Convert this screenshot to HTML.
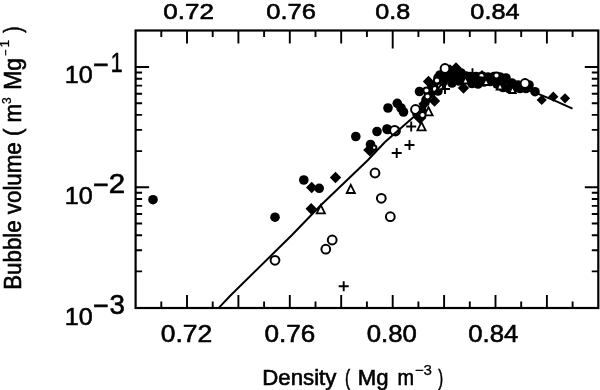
<!DOCTYPE html><html><head><meta charset="utf-8"><title>Bubble volume vs density</title>
<style>html,body{margin:0;padding:0;background:#fff}svg{display:block}text{font-family:"Liberation Sans",Arial,Helvetica,sans-serif;fill:#000;stroke:#000;stroke-width:0.6px}</style></head><body>
<svg width="600" height="390" viewBox="0 0 600 390">
<rect width="600" height="390" fill="#fff"/>
<g stroke="#000" stroke-width="2.2" fill="none" stroke-linecap="butt">
<rect x="135.6" y="30.5" width="462.7" height="277.5"/>
<path stroke-width="1.9" d="M161.3 30.5v6.5M161.3 308.0v-6.5M187.0 30.5v13M187.0 308.0v-13M212.7 30.5v6.5M212.7 308.0v-6.5M238.4 30.5v13M238.4 308.0v-13M264.1 30.5v6.5M264.1 308.0v-6.5M289.8 30.5v13M289.8 308.0v-13M315.5 30.5v6.5M315.5 308.0v-6.5M341.2 30.5v13M341.2 308.0v-13M366.9 30.5v6.5M366.9 308.0v-6.5M392.7 30.5v18M392.7 308.0v-13M418.4 30.5v6.5M418.4 308.0v-6.5M444.1 30.5v13M444.1 308.0v-13M469.8 30.5v6.5M469.8 308.0v-6.5M495.5 30.5v13M495.5 308.0v-13M521.2 30.5v6.5M521.2 308.0v-6.5M546.9 30.5v13M546.9 308.0v-13M572.6 30.5v6.5M572.6 308.0v-6.5M135.6 271.4h6.5M598.3 271.4h-6.5M135.6 250.2h6.5M598.3 250.2h-6.5M135.6 235.2h6.5M598.3 235.2h-6.5M135.6 223.5h6.5M598.3 223.5h-6.5M135.6 214.0h6.5M598.3 214.0h-6.5M135.6 205.9h6.5M598.3 205.9h-6.5M135.6 199.0h6.5M598.3 199.0h-6.5M135.6 192.8h6.5M598.3 192.8h-6.5M135.6 187.3h13.5M598.3 187.3h-13.5M135.6 151.1h6.5M598.3 151.1h-6.5M135.6 129.9h6.5M598.3 129.9h-6.5M135.6 114.9h6.5M598.3 114.9h-6.5M135.6 103.2h6.5M598.3 103.2h-6.5M135.6 93.7h6.5M598.3 93.7h-6.5M135.6 85.6h6.5M598.3 85.6h-6.5M135.6 78.7h6.5M598.3 78.7h-6.5M135.6 72.5h6.5M598.3 72.5h-6.5M135.6 67.0h13.5M598.3 67.0h-13.5"/>
</g>
<g id="data">
<path d="M338.7 286.3h10.0M343.7 281.3v10.0" stroke="#000" stroke-width="1.9" fill="none"/>
<path d="M391.7 153h10.0M396.7 148.0v10.0" stroke="#000" stroke-width="1.9" fill="none"/>
<path d="M404.5 145h10.0M409.5 140.0v10.0" stroke="#000" stroke-width="1.9" fill="none"/>
<path d="M406.2 126.5h10.0M411.2 121.5v10.0" stroke="#000" stroke-width="1.9" fill="none"/>
<path d="M440.0 89h10.0M445 84.0v10.0" stroke="#000" stroke-width="1.9" fill="none"/>
<path d="M467.5 73.3h10.0M472.5 68.3v10.0" stroke="#000" stroke-width="1.9" fill="none"/>
<path d="M477.0 75.6h10.0M482 70.6v10.0" stroke="#000" stroke-width="1.9" fill="none"/>
<circle cx="153" cy="199.7" r="4.8" fill="#000"/>
<circle cx="275" cy="217.2" r="4.8" fill="#000"/>
<circle cx="303.8" cy="180" r="4.8" fill="#000"/>
<circle cx="319.2" cy="188.3" r="4.8" fill="#000"/>
<circle cx="355.8" cy="136.5" r="4.8" fill="#000"/>
<circle cx="377" cy="131.5" r="4.8" fill="#000"/>
<circle cx="387.5" cy="129.5" r="4.8" fill="#000"/>
<circle cx="370.5" cy="144.5" r="4.8" fill="#000"/>
<circle cx="388" cy="108" r="4.8" fill="#000"/>
<circle cx="397.3" cy="103.3" r="4.8" fill="#000"/>
<circle cx="401" cy="108" r="4.8" fill="#000"/>
<circle cx="403.5" cy="112" r="4.8" fill="#000"/>
<circle cx="387" cy="129" r="4.8" fill="#000"/>
<circle cx="419.5" cy="91.5" r="4.8" fill="#000"/>
<circle cx="535" cy="91.7" r="4.8" fill="#000"/>
<circle cx="432" cy="86" r="4.8" fill="#000"/>
<circle cx="438" cy="91" r="4.8" fill="#000"/>
<circle cx="431" cy="93" r="4.8" fill="#000"/>
<circle cx="441" cy="83" r="4.8" fill="#000"/>
<circle cx="426" cy="100" r="4.8" fill="#000"/>
<circle cx="421.5" cy="110" r="4.8" fill="#000"/>
<circle cx="417" cy="114" r="4.8" fill="#000"/>
<circle cx="440" cy="75" r="4.8" fill="#000"/>
<circle cx="448" cy="78" r="4.8" fill="#000"/>
<circle cx="455" cy="76" r="4.8" fill="#000"/>
<circle cx="452" cy="83" r="4.8" fill="#000"/>
<circle cx="443" cy="82" r="4.8" fill="#000"/>
<circle cx="461" cy="73" r="4.8" fill="#000"/>
<circle cx="447" cy="71" r="4.8" fill="#000"/>
<circle cx="459" cy="81" r="4.8" fill="#000"/>
<circle cx="466" cy="76" r="4.8" fill="#000"/>
<circle cx="438" cy="78" r="4.8" fill="#000"/>
<circle cx="470" cy="76.5" r="4.8" fill="#000"/>
<circle cx="476" cy="76.5" r="4.8" fill="#000"/>
<circle cx="482" cy="76" r="4.8" fill="#000"/>
<circle cx="488" cy="77" r="4.8" fill="#000"/>
<circle cx="494" cy="76.5" r="4.8" fill="#000"/>
<circle cx="500" cy="77" r="4.8" fill="#000"/>
<circle cx="506" cy="78" r="4.8" fill="#000"/>
<circle cx="512" cy="83" r="4.8" fill="#000"/>
<circle cx="518" cy="85" r="4.8" fill="#000"/>
<circle cx="472" cy="83.5" r="4.8" fill="#000"/>
<circle cx="478" cy="84" r="4.8" fill="#000"/>
<circle cx="484" cy="82" r="4.8" fill="#000"/>
<circle cx="490" cy="81.5" r="4.8" fill="#000"/>
<circle cx="497" cy="84" r="4.8" fill="#000"/>
<circle cx="503" cy="87.5" r="4.8" fill="#000"/>
<circle cx="509" cy="88.5" r="4.8" fill="#000"/>
<circle cx="514" cy="88" r="4.8" fill="#000"/>
<circle cx="520" cy="88.5" r="4.8" fill="#000"/>
<circle cx="526" cy="88.5" r="4.8" fill="#000"/>
<circle cx="529" cy="85" r="4.8" fill="#000"/>
<path d="M311.7 181.8L317.4 187.5L311.7 193.2L306.0 187.5Z" fill="#000"/>
<path d="M311.2 203.0L316.9 208.7L311.2 214.39999999999998L305.5 208.7Z" fill="#000"/>
<path d="M335.5 171.8L341.2 177.5L335.5 183.2L329.8 177.5Z" fill="#000"/>
<path d="M369.8 143.4L376.40000000000003 150L369.8 156.6L363.2 150Z" fill="#000"/>
<path d="M428.5 75.8L434.2 81.5L428.5 87.2L422.8 81.5Z" fill="#000"/>
<path d="M434.5 95.3L440.2 101L434.5 106.7L428.8 101Z" fill="#000"/>
<path d="M424 98.3L429.7 104L424 109.7L418.3 104Z" fill="#000"/>
<path d="M420 111.7L426.3 118L420 124.3L413.7 118Z" fill="#000"/>
<path d="M456 62.3L461.7 68L456 73.7L450.3 68Z" fill="#000"/>
<path d="M463.5 82.3L469.2 88L463.5 93.7L457.8 88Z" fill="#000"/>
<path d="M541.7 94.9L546.8000000000001 100L541.7 105.1L536.6 100Z" fill="#000"/>
<path d="M553.3 91.60000000000001L558.4 96.7L553.3 101.8L548.1999999999999 96.7Z" fill="#000"/>
<path d="M565 93.2L570.1 98.3L565 103.39999999999999L559.9 98.3Z" fill="#000"/>
<path d="M450 64.3L455.7 70L450 75.7L444.3 70Z" fill="#000"/>
<path d="M462 68.3L467.7 74L462 79.7L456.3 74Z" fill="#000"/>
<path d="M320.8 205.1L324.90000000000003 213.29999999999998L316.7 213.29999999999998Z" fill="#fff" stroke="#000" stroke-width="1.8" stroke-linejoin="miter"/>
<path d="M350.8 184.79999999999998L354.90000000000003 192.99999999999997L346.7 192.99999999999997Z" fill="#fff" stroke="#000" stroke-width="1.8" stroke-linejoin="miter"/>
<path d="M428.5 107.10000000000001L432.6 115.3L424.4 115.3Z" fill="#fff" stroke="#000" stroke-width="1.8" stroke-linejoin="miter"/>
<path d="M421.5 122.10000000000001L425.6 130.29999999999998L417.4 130.29999999999998Z" fill="#fff" stroke="#000" stroke-width="1.8" stroke-linejoin="miter"/>
<circle cx="275" cy="260.3" r="4.4" fill="#fff" stroke="#000" stroke-width="2"/>
<circle cx="332.2" cy="240" r="4.4" fill="#fff" stroke="#000" stroke-width="2"/>
<circle cx="325.8" cy="249.2" r="4.4" fill="#fff" stroke="#000" stroke-width="2"/>
<circle cx="375" cy="173" r="4.4" fill="#fff" stroke="#000" stroke-width="2"/>
<circle cx="381.3" cy="198.3" r="4.4" fill="#fff" stroke="#000" stroke-width="2"/>
<circle cx="390.3" cy="216.7" r="4.4" fill="#fff" stroke="#000" stroke-width="2"/>
<circle cx="395.5" cy="131" r="4.4" fill="#fff" stroke="#000" stroke-width="2"/>
<circle cx="394.5" cy="130.5" r="4.4" fill="#fff" stroke="#000" stroke-width="2"/>
<circle cx="415.5" cy="109.5" r="4.4" fill="#fff" stroke="#000" stroke-width="2"/>
<circle cx="445" cy="68.5" r="4.4" fill="#fff" stroke="#000" stroke-width="2"/>
<circle cx="525" cy="83.5" r="4.4" fill="#fff" stroke="#000" stroke-width="2"/>
<circle cx="374.2" cy="147.6" r="2.2" fill="#fff" stroke="#000" stroke-width="2"/>
<circle cx="426.5" cy="90.5" r="3.1" fill="#fff" stroke="#000" stroke-width="2"/>
<circle cx="435" cy="89" r="3.1" fill="#fff" stroke="#000" stroke-width="2"/>
<circle cx="440" cy="86.5" r="3.1" fill="#fff" stroke="#000" stroke-width="2"/>
<circle cx="427.5" cy="96.5" r="3.1" fill="#fff" stroke="#000" stroke-width="2"/>
<circle cx="437" cy="80.5" r="3.1" fill="#fff" stroke="#000" stroke-width="2"/>
<circle cx="481.5" cy="76" r="3.1" fill="#fff" stroke="#000" stroke-width="2"/>
<circle cx="496.5" cy="75.5" r="3.1" fill="#fff" stroke="#000" stroke-width="2"/>
<circle cx="422.5" cy="115" r="3.1" fill="#fff" stroke="#000" stroke-width="2"/>
<path d="M465.5 76.9L468.8 83.5L462.2 83.5Z" fill="#fff" stroke="#000" stroke-width="1.8" stroke-linejoin="miter"/>
<path d="M486 78.4L489.3 85.0L482.7 85.0Z" fill="#fff" stroke="#000" stroke-width="1.8" stroke-linejoin="miter"/>
<path d="M500 82.9L503.3 89.5L496.7 89.5Z" fill="#fff" stroke="#000" stroke-width="1.8" stroke-linejoin="miter"/>
<path d="M512.5 86.4L515.8 93.0L509.2 93.0Z" fill="#fff" stroke="#000" stroke-width="1.8" stroke-linejoin="miter"/>
</g>
<path id="curve" fill="none" stroke="#000" stroke-width="2" d="M219 307.6 L230 296 L292 235 L320 206 L368 160 L385 142 L413 117.5 L420 111 C432 99 440 78 458 76 C480 74 520 84 572.5 108.7"/>
<text x="163.22" y="18.8" font-size="22.4" textLength="50.68" lengthAdjust="spacingAndGlyphs">0.72</text>
<text x="266.23" y="18.8" font-size="22.4" textLength="49.69" lengthAdjust="spacingAndGlyphs">0.76</text>
<text x="375.35" y="18.8" font-size="22.4" textLength="34.96" lengthAdjust="spacingAndGlyphs">0.8</text>
<text x="470.34" y="18.8" font-size="22.4" textLength="49.22" lengthAdjust="spacingAndGlyphs">0.84</text>
<text x="160.81" y="341.8" font-size="24.3" textLength="51.41" lengthAdjust="spacingAndGlyphs">0.72</text>
<text x="264.52" y="341.8" font-size="24.3" textLength="50.83" lengthAdjust="spacingAndGlyphs">0.76</text>
<text x="366.73" y="341.8" font-size="24.3" textLength="50.10" lengthAdjust="spacingAndGlyphs">0.80</text>
<text x="468.23" y="341.8" font-size="24.3" textLength="50.15" lengthAdjust="spacingAndGlyphs">0.84</text>
<text x="64.74" y="83.4" font-size="24.6" textLength="27.97" lengthAdjust="spacingAndGlyphs">10</text>
<text x="93.03" y="74.10000000000001" font-size="28" textLength="15.65" lengthAdjust="spacingAndGlyphs">−</text>
<text x="110.80" y="72.30000000000001" font-size="27.8" textLength="11.88" lengthAdjust="spacingAndGlyphs">1</text>
<text x="64.74" y="203.7" font-size="24.6" textLength="27.97" lengthAdjust="spacingAndGlyphs">10</text>
<text x="93.03" y="194.39999999999998" font-size="28" textLength="15.65" lengthAdjust="spacingAndGlyphs">−</text>
<text x="108.82" y="192.6" font-size="27.8" textLength="16.44" lengthAdjust="spacingAndGlyphs">2</text>
<text x="64.74" y="324.7" font-size="24.6" textLength="27.97" lengthAdjust="spacingAndGlyphs">10</text>
<text x="93.03" y="315.4" font-size="28" textLength="15.65" lengthAdjust="spacingAndGlyphs">−</text>
<text x="109.47" y="313.59999999999997" font-size="27.8" textLength="15.44" lengthAdjust="spacingAndGlyphs">3</text>
<text x="262.22" y="385" font-size="21.3" textLength="74.18" lengthAdjust="spacingAndGlyphs">Density</text>
<text x="345.07" y="385" font-size="21.3" textLength="5.18" lengthAdjust="spacingAndGlyphs">(</text>
<text x="357.73" y="385" font-size="21.3" textLength="30.71" lengthAdjust="spacingAndGlyphs">Mg</text>
<text x="397.41" y="385" font-size="21.3" textLength="16.54" lengthAdjust="spacingAndGlyphs">m</text>
<text x="414.69" y="375.2" font-size="13.8" textLength="17.25" lengthAdjust="spacingAndGlyphs" style="stroke-width:0.25px">−3</text>
<text x="438.30" y="385" font-size="21.3" textLength="4.88" lengthAdjust="spacingAndGlyphs">)</text>
<text transform="rotate(-90)" x="-289.78" y="21.2" font-size="23" textLength="185.89" lengthAdjust="spacingAndGlyphs">Bubble volume ( m</text>
<text transform="rotate(-90)" x="-104.06" y="10.5" font-size="12.5" textLength="6.70" lengthAdjust="spacingAndGlyphs" style="stroke-width:0.25px">3</text>
<text transform="rotate(-90)" x="-89.82" y="21.2" font-size="23" textLength="31.60" lengthAdjust="spacingAndGlyphs">Mg</text>
<text transform="rotate(-90)" x="-55.94" y="10.2" font-size="12.5" textLength="6.42" lengthAdjust="spacingAndGlyphs" style="stroke-width:0.25px">−</text>
<text transform="rotate(-90)" x="-47.57" y="9.4" font-size="12.5" textLength="7.71" lengthAdjust="spacingAndGlyphs" style="stroke-width:0.25px">1</text>
<text transform="rotate(-90)" x="-32.70" y="21.2" font-size="23" textLength="6.42" lengthAdjust="spacingAndGlyphs">)</text>
</svg></body></html>
